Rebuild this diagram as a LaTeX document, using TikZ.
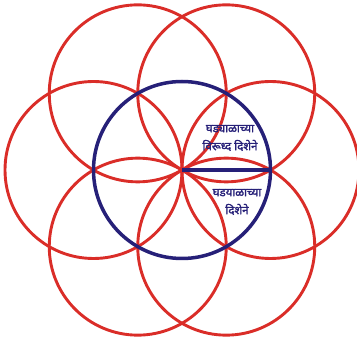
\documentclass[tikz,border=0pt]{standalone}
\usepackage{fontspec}
\usetikzlibrary{calc}
\newfontfamily\devfont[Script=Devanagari,FakeBold=2]{Noto Sans}
\definecolor{ringred}{RGB}{218,45,40}
\definecolor{ringblue}{RGB}{38,32,120}
\begin{document}
\begin{tikzpicture}[x=1pt,y=1pt,
  redring/.style={draw=ringred,line width=2.9pt},
  bluering/.style={draw=ringblue,line width=3.5pt},
  lbl/.style={text=ringblue,font=\devfont\fontsize{11.5}{18}\selectfont,align=center,inner sep=0pt}]
\useasboundingbox (0,0) rectangle (357,338);
\def\R{88.5}
\coordinate (c) at (182,168);
\foreach \a in {0,60,...,300}{
  \draw[redring] ($(c)+(\a:\R)$) circle (\R);
}
\draw[bluering] (c) circle (\R);
\coordinate (e) at ($(c)+(0:\R)$);
\draw[ringblue,line width=3.2pt] (c) -- (e);
\node[lbl] (t1) at (230,200) {घड्याळाच्या\\विरूध्द दिशेने};
\node[lbl] (t2) at (237,136) {घडयाळाच्या\\दिशेने};
\end{tikzpicture}
\end{document}
